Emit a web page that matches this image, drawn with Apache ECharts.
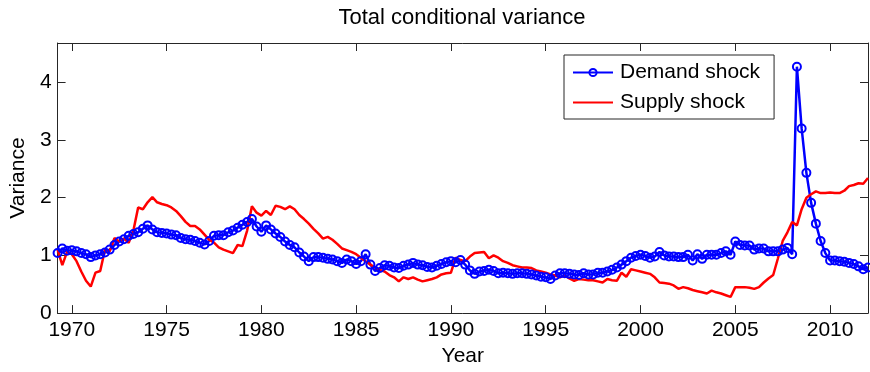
<!DOCTYPE html>
<html>
<head>
<meta charset="utf-8">
<script src="https://cdn.jsdelivr.net/npm/echarts@6/dist/echarts.min.js"></script>
<style>
  html, body { margin: 0; padding: 0; background: #fff; }
  #chart { width: 870px; height: 372px; }
</style>
</head>
<body>
<div id="chart"></div>
<script>
// quarterly data, first point 1969 Q2
const startYear = 1969.25;
const yearTicks = [1970, 1975, 1980, 1985, 1990, 1995, 2000, 2005, 2010];
const varianceTicks = [0, 1, 2, 3, 4];

const demandShock = [
    1.04, 1.12, 1.08,
    1.09, 1.07, 1.04, 1.02,
    0.97, 1.00, 1.02, 1.05,
    1.10, 1.18, 1.24, 1.28,
    1.34, 1.37, 1.40, 1.46,
    1.52, 1.45, 1.40, 1.39,
    1.38, 1.36, 1.35, 1.30,
    1.28, 1.27, 1.25, 1.22,
    1.19, 1.25, 1.34, 1.35,
    1.35, 1.40, 1.43, 1.48,
    1.53, 1.58, 1.63, 1.50,
    1.41, 1.52, 1.45, 1.38,
    1.32, 1.24, 1.18, 1.14,
    1.05, 0.98, 0.90, 0.97,
    0.97, 0.96, 0.94, 0.93,
    0.90, 0.87, 0.93, 0.90,
    0.85, 0.90, 1.02, 0.84,
    0.73, 0.78, 0.83, 0.82,
    0.79, 0.78, 0.82, 0.84,
    0.87, 0.84, 0.83, 0.80,
    0.79, 0.82, 0.85, 0.88,
    0.90, 0.88, 0.92, 0.84,
    0.74, 0.68, 0.72, 0.73,
    0.75, 0.73, 0.69, 0.70,
    0.69, 0.68, 0.69, 0.69,
    0.68, 0.67, 0.65, 0.63,
    0.62, 0.59, 0.65, 0.69,
    0.69, 0.68, 0.67, 0.66,
    0.69, 0.67, 0.67, 0.70,
    0.70, 0.72, 0.75, 0.79,
    0.84, 0.90, 0.96, 0.99,
    1.01, 0.99, 0.96, 0.98,
    1.06, 1.00, 0.98, 0.98,
    0.97, 0.97, 1.01, 0.91,
    1.02, 0.94, 1.01, 1.01,
    1.01, 1.04, 1.07, 1.01,
    1.24, 1.18, 1.17, 1.17,
    1.10, 1.12, 1.12, 1.07,
    1.07, 1.07, 1.10, 1.13,
    1.02, 4.27, 3.20, 2.43,
    1.91, 1.55, 1.25, 1.04,
    0.91, 0.91, 0.90, 0.89,
    0.87, 0.85, 0.81, 0.76,
    0.79
];

const supplyShock = [
    1.10, 0.83, 1.06,
    1.02, 0.90, 0.72, 0.56,
    0.46, 0.70, 0.73, 1.10,
    1.07, 1.30, 1.24, 1.29,
    1.22, 1.43, 1.83, 1.80,
    1.92, 2.01, 1.92, 1.89,
    1.87, 1.83, 1.77, 1.68,
    1.58, 1.51, 1.51, 1.45,
    1.36, 1.27, 1.22, 1.14,
    1.10, 1.07, 1.04, 1.18,
    1.16, 1.43, 1.85, 1.74,
    1.69, 1.77, 1.70, 1.86,
    1.84, 1.80, 1.85, 1.80,
    1.70, 1.63, 1.55, 1.46,
    1.38, 1.29, 1.32, 1.27,
    1.20, 1.12, 1.09, 1.06,
    1.02, 0.96, 0.90, 0.84,
    0.79, 0.75, 0.72, 0.66,
    0.62, 0.55, 0.62, 0.59,
    0.62, 0.58, 0.55, 0.57,
    0.59, 0.62, 0.67, 0.69,
    0.70, 0.96, 0.92, 0.90,
    0.98, 1.04, 1.05, 1.06,
    0.95, 1.00, 0.96, 0.90,
    0.87, 0.83, 0.81, 0.79,
    0.79, 0.78, 0.74, 0.72,
    0.70, 0.67, 0.65, 0.62,
    0.65, 0.60, 0.56, 0.59,
    0.58, 0.57, 0.57, 0.55,
    0.53, 0.59, 0.57, 0.56,
    0.70, 0.63, 0.76, 0.74,
    0.72, 0.70, 0.68, 0.62,
    0.53, 0.52, 0.51, 0.48,
    0.42, 0.45, 0.43, 0.40,
    0.38, 0.36, 0.34, 0.39,
    0.36, 0.34, 0.31, 0.28,
    0.45, 0.45, 0.45, 0.44,
    0.42, 0.45, 0.53, 0.60,
    0.66, 0.95, 1.25, 1.40,
    1.58, 1.52, 1.80, 2.00,
    2.06, 2.11, 2.08, 2.08,
    2.09, 2.08, 2.08, 2.12,
    2.20, 2.22, 2.25, 2.24,
    2.34
];

const FONT = '"Liberation Sans", Arial, Helvetica, sans-serif';
const AXIS_COLOR = '#262626';

const toPairs = (values) => values.map((v, i) => [startYear + i * 0.25, v]);

const chart = echarts.init(document.getElementById('chart'), null, { renderer: 'canvas' });

// box around the plot, ticks pointing inwards like matlab
const frameAxis = {
    axisLine: { show: true, onZero: false, lineStyle: { color: AXIS_COLOR, width: 1 } },
    axisTick: { show: true, inside: true, length: 8, lineStyle: { color: AXIS_COLOR, width: 1 } },
    splitLine: { show: false }
};

const option = {
    animation: false,
    backgroundColor: '#fff',
    title: {
        text: 'Total conditional variance',
        left: 462,
        top: 7,
        textAlign: 'center',
        padding: 0,
        textStyle: { fontFamily: FONT, fontSize: 22, fontWeight: 'normal', color: '#000' }
    },
    grid: { left: 56, right: 2, top: 43, bottom: 52 },
    legend: {
        orient: 'vertical',
        left: 564,
        top: 55,
        padding: [7, 14, 6, 8],
        itemGap: 9,
        itemWidth: 40,
        itemHeight: 9,
        borderColor: AXIS_COLOR,
        borderWidth: 1,
        backgroundColor: '#fff',
        textStyle: { fontFamily: FONT, fontSize: 21, color: '#000', padding: [0, 0, 0, 2] },
        data: [
            { name: 'Demand shock' },
            { name: 'Supply shock', itemStyle: { color: 'rgba(0,0,0,0)', borderWidth: 0 } }
        ]
    },
    xAxis: [
        Object.assign({}, frameAxis, {
            type: 'value',
            min: 1969.25,
            max: 2012,
            name: 'Year',
            nameLocation: 'middle',
            nameGap: 30,
            nameTextStyle: { fontFamily: FONT, fontSize: 21, color: '#000' },
            axisTick: Object.assign({}, frameAxis.axisTick, { customValues: yearTicks }),
            axisLabel: {
                customValues: yearTicks,
                formatter: (v) => String(v),
                margin: 7,
                fontFamily: FONT,
                fontSize: 21,
                color: '#000'
            }
        }),
        Object.assign({}, frameAxis, {
            type: 'value',
            position: 'top',
            min: 1969.25,
            max: 2012,
            axisTick: Object.assign({}, frameAxis.axisTick, { customValues: yearTicks }),
            axisLabel: { show: false }
        })
    ],
    yAxis: [
        Object.assign({}, frameAxis, {
            type: 'value',
            min: 0,
            max: 4.68,
            name: 'Variance',
            nameLocation: 'middle',
            nameGap: 28,
            nameTextStyle: { fontFamily: FONT, fontSize: 21, color: '#000' },
            axisTick: Object.assign({}, frameAxis.axisTick, { customValues: varianceTicks }),
            axisLabel: {
                customValues: varianceTicks,
                margin: 6,
                fontFamily: FONT,
                fontSize: 21,
                color: '#000'
            }
        }),
        Object.assign({}, frameAxis, {
            type: 'value',
            position: 'right',
            min: 0,
            max: 4.68,
            axisTick: Object.assign({}, frameAxis.axisTick, { customValues: varianceTicks }),
            axisLabel: { show: false }
        })
    ],
    series: [
        {
            name: 'Demand shock',
            type: 'line',
            xAxisIndex: 0,
            yAxisIndex: 0,
            data: toPairs(demandShock),
            showAllSymbol: true,
            symbol: 'circle',
            symbolSize: 8,
            color: '#0000ff',
            lineStyle: { color: '#0000ff', width: 2.5 },
            itemStyle: { color: 'rgba(255,255,255,0)', borderColor: '#0000ff', borderWidth: 2 }
        },
        {
            name: 'Supply shock',
            type: 'line',
            xAxisIndex: 0,
            yAxisIndex: 0,
            data: toPairs(supplyShock),
            showSymbol: false,
            symbol: 'none',
            color: '#ff0000',
            lineStyle: { color: '#ff0000', width: 2.5 }
        }
    ]
};

chart.setOption(option);
</script>
</body>
</html>
